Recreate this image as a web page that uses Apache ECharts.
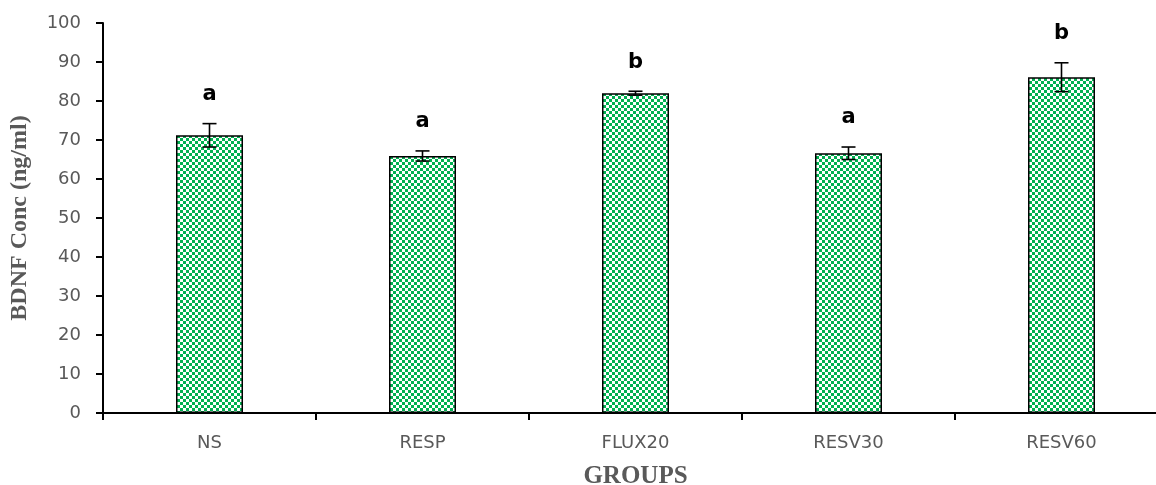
<!DOCTYPE html>
<html><head><meta charset="utf-8">
<script src="https://cdn.jsdelivr.net/npm/echarts@6/dist/echarts.min.js"></script>
<style>html,body{margin:0;padding:0;background:#fff}#c{width:1156px;height:485px}</style>
</head><body><div id="c"></div>
<script>
const categories = ['NS', 'RESP', 'FLUX20', 'RESV30', 'RESV60'];
const means = [71.2, 65.9, 82.0, 66.6, 86.1];
const errors = [3.0, 1.3, 0.5, 1.6, 3.7];
const letters = ['a', 'a', 'b', 'a', 'b'];
const yTicks = [0, 10, 20, 30, 40, 50, 60, 70, 80, 90, 100];

const pc = document.createElement('canvas');
pc.width = 6; pc.height = 6;
const g = pc.getContext('2d');
g.fillStyle = '#ffffff'; g.fillRect(0, 0, 6, 6);
g.fillStyle = '#00b050';
g.fillRect(0, 0, 3, 3); g.fillRect(3, 3, 3, 3);

const chart = echarts.init(document.getElementById('c'), null, {renderer: 'canvas'});
chart.setOption({
  animation: false,
  grid: {left: 103, top: 23, bottom: 72, right: -12, containLabel: false, outerBoundsMode: 'none'},
  xAxis: {
    type: 'category', data: categories,
    axisLine: {lineStyle: {color: '#000', width: 2}},
    axisTick: {show: true, length: 7, lineStyle: {color: '#000', width: 2}},
    axisLabel: {color: '#595959', fontFamily: 'DejaVu Sans', fontSize: 18, margin: 21},
    name: 'GROUPS', nameLocation: 'middle', nameGap: 51,
    nameTextStyle: {fontFamily: 'Liberation Serif', fontWeight: 'bold', fontSize: 25, color: '#595959'}
  },
  yAxis: {
    type: 'value', min: yTicks[0], max: yTicks[yTicks.length - 1], interval: 10,
    splitLine: {show: false},
    axisLine: {show: true, lineStyle: {color: '#000', width: 2}},
    axisTick: {show: true, length: 7, lineStyle: {color: '#000', width: 2}},
    axisLabel: {color: '#595959', fontFamily: 'DejaVu Sans', fontSize: 18, margin: 22},
    name: 'BDNF Conc (ng/ml)', nameLocation: 'middle', nameGap: 71,
    nameTextStyle: {fontFamily: 'Liberation Serif', fontWeight: 'bold', fontSize: 24, color: '#595959'}
  },
  series: [
    {
      type: 'bar', data: means, barWidth: 67,
      itemStyle: {color: {image: pc, repeat: 'repeat'}, borderColor: '#000', borderWidth: 1.5}
    },
    {
      type: 'custom', z: 10,
      data: means.map((m, i) => [i, m, errors[i], letters[i]]),
      renderItem: function (params, api) {
        const i = api.value(0), m = api.value(1), e = api.value(2);
        const top = api.coord([i, m + e]);
        const bot = api.coord([i, m - e]);
        const hw = 7;
        const ls = {stroke: '#000', lineWidth: 1.6};
        return {
          type: 'group',
          children: [
            {type: 'line', shape: {x1: top[0], y1: top[1], x2: bot[0], y2: bot[1]}, style: ls},
            {type: 'line', shape: {x1: top[0] - hw, y1: top[1], x2: top[0] + hw, y2: top[1]}, style: ls},
            {type: 'line', shape: {x1: bot[0] - hw, y1: bot[1], x2: bot[0] + hw, y2: bot[1]}, style: ls},
            {type: 'text', x: top[0], y: top[1] - 29,
             style: {text: letters[params.dataIndex], fill: '#000', font: 'bold 21px "DejaVu Sans"', textAlign: 'center', textVerticalAlign: 'middle'}}
          ]
        };
      }
    }
  ]
});
</script></body></html>
